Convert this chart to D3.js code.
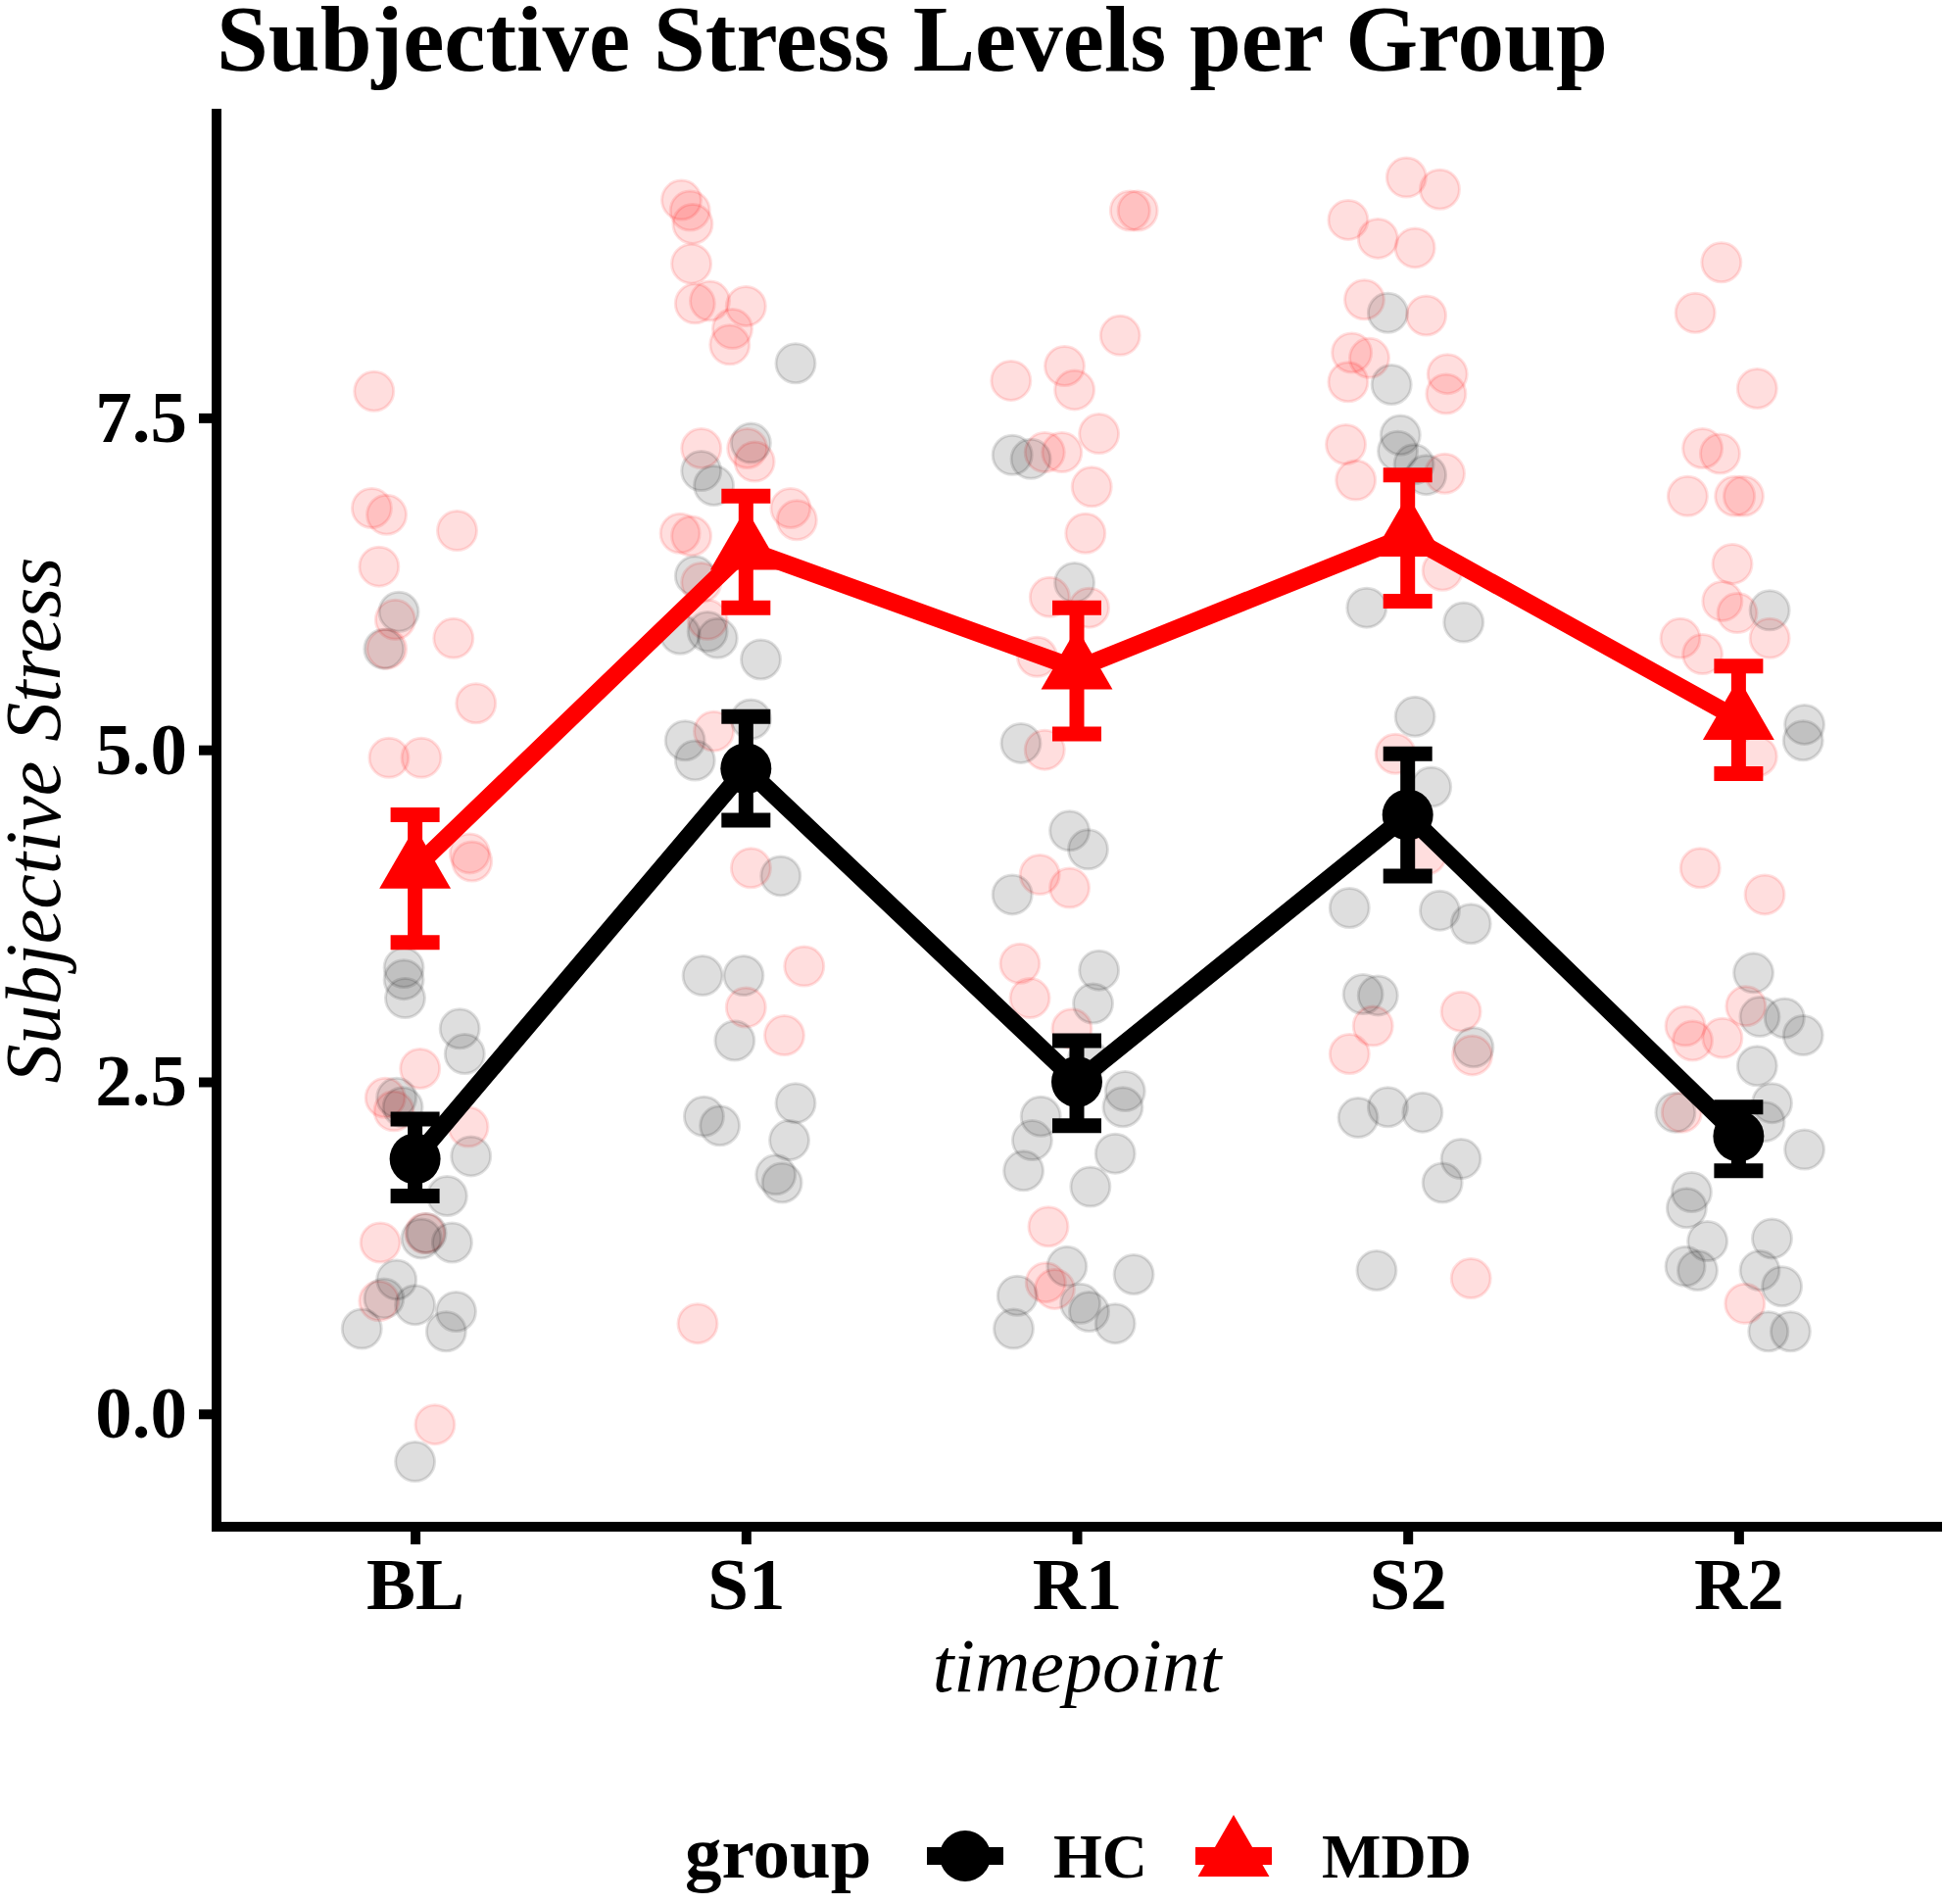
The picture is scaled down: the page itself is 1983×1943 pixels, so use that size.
<!DOCTYPE html>
<html>
<head>
<meta charset="utf-8">
<script src="https://cdn.jsdelivr.net/npm/d3@7"></script>
<style>
  body { margin: 0; background: #fff; }
  text { font-family: "Liberation Serif", "Times New Roman", serif; }
</style>
</head>
<body>
<div id="chart"></div>
<script>
// categories and tick labels
const timepoints = ["BL", "S1", "R1", "S2", "R2"];
const yTicks = [0, 2.5, 5, 7.5];

// group means and error bar bounds
const hcMean  = [1.92, 4.86, 2.50, 4.51, 2.09];
const hcLow   = [1.64, 4.47, 2.17, 4.05, 1.83];
const hcHigh  = [2.22, 5.25, 2.81, 4.97, 2.31];
const mddMean = [4.11, 6.51, 5.61, 6.61, 5.23];
const mddLow  = [3.55, 6.07, 5.12, 6.12, 4.82];
const mddHigh = [4.51, 6.91, 6.07, 7.07, 5.63];

// raw jittered observations: [timepoint, jitter offset, stress]
const hcRaw = [
  ["BL",-0.049,6.04],["BL",-0.094,5.76],["BL",-0.034,3.36],["BL",-0.034,3.27],["BL",-0.030,3.13],
  ["BL",0.135,2.90],["BL",0.150,2.71],["BL",-0.056,2.38],["BL",-0.037,2.31],["BL",0.169,1.94],
  ["BL",0.097,1.64],["BL",0.034,1.36],["BL",0.019,1.32],["BL",0.112,1.29],["BL",-0.056,1.01],
  ["BL",-0.094,0.87],["BL",-0.161,0.64],["BL",0.0,0.82],["BL",0.124,0.77],["BL",0.094,0.62],
  ["BL",0.0,-0.36],
  ["S1",0.150,7.91],["S1",0.015,7.31],["S1",-0.135,7.10],["S1",-0.097,6.99],["S1",-0.154,6.31],
  ["S1",-0.199,5.87],["S1",-0.116,5.89],["S1",-0.086,5.84],["S1",0.045,5.68],["S1",0.015,5.23],
  ["S1",-0.184,5.07],["S1",-0.154,4.92],["S1",0.105,4.05],["S1",-0.131,3.30],["S1",-0.007,3.30],
  ["S1",-0.034,2.81],["S1",-0.127,2.24],["S1",-0.079,2.17],["S1",0.150,2.34],["S1",0.131,2.06],
  ["S1",0.090,1.80],["S1",0.109,1.74],
  ["R1",-0.195,7.22],["R1",-0.139,7.19],["R1",-0.007,6.26],["R1",-0.169,5.05],["R1",-0.022,4.39],
  ["R1",0.034,4.25],["R1",-0.195,3.91],["R1",0.067,3.34],["R1",0.049,3.09],["R1",0.034,2.67],
  ["R1",0.146,2.43],["R1",0.139,2.31],["R1",-0.109,2.24],["R1",-0.135,2.06],["R1",0.116,1.96],
  ["R1",-0.161,1.83],["R1",0.041,1.71],["R1",-0.030,1.11],["R1",0.172,1.05],["R1",-0.180,0.89],
  ["R1",0.011,0.83],["R1",0.037,0.77],["R1",-0.191,0.64],["R1",0.116,0.68],
  ["S2",-0.060,8.29],["S2",-0.049,7.75],["S2",-0.022,7.37],["S2",-0.030,7.25],["S2",0.019,7.15],
  ["S2",0.056,7.07],["S2",-0.124,6.07],["S2",0.169,5.96],["S2",0.022,5.25],["S2",0.071,4.72],
  ["S2",-0.176,3.81],["S2",0.097,3.79],["S2",0.191,3.69],["S2",-0.135,3.16],["S2",-0.090,3.15],
  ["S2",0.199,2.76],["S2",-0.150,2.23],["S2",-0.060,2.31],["S2",0.045,2.27],["S2",0.161,1.92],
  ["S2",0.105,1.74],["S2",-0.094,1.08],
  ["R2",0.094,6.05],["R2",0.199,5.19],["R2",0.195,5.07],["R2",0.045,3.32],["R2",0.064,2.99],
  ["R2",0.139,2.98],["R2",0.195,2.85],["R2",0.056,2.62],["R2",0.101,2.34],["R2",0.079,2.20],
  ["R2",-0.191,2.27],["R2",0.199,1.99],["R2",-0.142,1.67],["R2",-0.157,1.55],["R2",-0.094,1.30],
  ["R2",0.101,1.32],["R2",-0.161,1.11],["R2",-0.124,1.08],["R2",0.064,1.08],["R2",0.131,0.96],
  ["R2",0.090,0.62],["R2",0.157,0.62]
];

const mddRaw = [
  ["BL",-0.124,7.70],["BL",-0.131,6.82],["BL",-0.086,6.77],["BL",0.127,6.65],["BL",-0.109,6.38],
  ["BL",-0.060,5.98],["BL",-0.086,5.76],["BL",0.116,5.84],["BL",0.184,5.35],["BL",-0.079,4.94],
  ["BL",0.019,4.94],["BL",0.165,4.22],["BL",0.172,4.16],["BL",0.015,2.60],["BL",-0.090,2.38],
  ["BL",-0.064,2.28],["BL",0.161,2.16],["BL",-0.105,1.29],["BL",0.030,1.36],["BL",-0.109,0.85],
  ["BL",0.060,-0.08],
  ["S1",-0.195,9.14],["S1",-0.169,9.06],["S1",-0.161,8.96],["S1",-0.165,8.66],["S1",-0.154,8.36],
  ["S1",-0.109,8.38],["S1",0.0,8.34],["S1",-0.041,8.17],["S1",-0.049,8.05],["S1",-0.135,7.27],
  ["S1",0.004,7.27],["S1",0.026,7.17],["S1",-0.199,6.63],["S1",-0.165,6.61],["S1",0.135,6.82],
  ["S1",0.154,6.73],["S1",-0.135,6.26],["S1",-0.116,5.98],["S1",-0.097,5.14],["S1",0.015,4.11],
  ["S1",0.176,3.37],["S1",0.0,3.06],["S1",0.116,2.85],["S1",-0.146,0.68],
  ["R1",-0.199,7.78],["R1",-0.037,7.89],["R1",-0.007,7.71],["R1",0.161,9.06],["R1",0.184,9.06],
  ["R1",0.131,8.12],["R1",0.067,7.38],["R1",-0.097,7.24],["R1",-0.045,7.24],["R1",0.045,6.98],
  ["R1",0.026,6.63],["R1",-0.082,6.15],["R1",0.037,6.07],["R1",-0.120,5.70],["R1",-0.097,5.00],
  ["R1",-0.112,4.06],["R1",-0.022,3.96],["R1",-0.172,3.39],["R1",-0.142,3.13],["R1",-0.015,2.90],
  ["R1",-0.086,1.41],["R1",-0.094,0.99],["R1",-0.067,0.94],
  ["S2",-0.004,9.31],["S2",0.097,9.22],["S2",-0.180,8.99],["S2",-0.090,8.85],["S2",0.022,8.78],
  ["S2",-0.131,8.39],["S2",0.056,8.27],["S2",-0.169,7.99],["S2",-0.116,7.95],["S2",-0.180,7.77],
  ["S2",0.120,7.83],["S2",0.116,7.68],["S2",-0.187,7.30],["S2",-0.157,7.03],["S2",0.112,7.08],
  ["S2",0.105,6.35],["S2",-0.037,4.97],["S2",0.056,4.21],["S2",-0.105,2.92],["S2",0.161,3.03],
  ["S2",-0.176,2.71],["S2",0.195,2.70],["S2",0.191,1.02],
  ["R2",-0.052,8.67],["R2",-0.131,8.29],["R2",0.056,7.72],["R2",-0.109,7.27],["R2",-0.056,7.23],
  ["R2",-0.154,6.91],["R2",-0.011,6.91],["R2",0.015,6.91],["R2",-0.019,6.40],["R2",-0.049,6.12],
  ["R2",-0.004,6.03],["R2",-0.176,5.84],["R2",-0.109,5.72],["R2",0.094,5.84],["R2",0.056,4.95],
  ["R2",-0.116,4.11],["R2",0.079,3.91],["R2",-0.161,2.92],["R2",-0.139,2.81],["R2",-0.049,2.83],
  ["R2",0.022,3.07],["R2",-0.172,2.27],["R2",0.019,0.83]
];

const W = 1983, H = 1943;
const margin = {top: 116, right: 6, bottom: 385, left: 221};
const width = W - margin.left - margin.right;
const height = H - margin.top - margin.bottom;

const svg = d3.select("#chart").append("svg")
    .attr("width", W)
    .attr("height", H);

const g = svg.append("g")
    .attr("transform", "translate(" + margin.left + "," + margin.top + ")");

// discrete x with ggplot-style 0.6 padding, as a linear index scale
const xIdx = d3.scaleLinear().domain([0.4, timepoints.length + 0.6]).range([0, width]);
const x = d => xIdx(timepoints.indexOf(d) + 1);
const y = d3.scaleLinear().domain([-0.85, 9.79]).range([height, 0]);

const circleSize = 2120, triangleSize = 2300;

// jittered raw points
function drawRaw(rows, color) {
  g.append("g").selectAll("circle")
      .data(rows)
      .enter()
      .append("circle")
      .attr("cx", d => xIdx(timepoints.indexOf(d[0]) + 1 + d[1]))
      .attr("cy", d => y(d[2]))
      .attr("r", 20)
      .attr("fill", color)
      .attr("fill-opacity", 0.13)
      .attr("stroke", color)
      .attr("stroke-opacity", 0.12)
      .attr("stroke-width", 3);
}
drawRaw(mddRaw, "#ff0000");
drawRaw(hcRaw, "#000000");

// mean lines, markers and error bars
function drawGroup(mean, low, high, color, shape, size) {
  const line = d3.line()
      .x((d, i) => x(timepoints[i]))
      .y(d => y(d));

  g.append("path")
      .datum(mean)
      .attr("d", line)
      .attr("fill", "none")
      .attr("stroke", color)
      .attr("stroke-width", 18)
      .attr("stroke-linejoin", "round");

  g.append("g").selectAll("path")
      .data(mean)
      .enter()
      .append("path")
      .attr("transform", (d, i) => "translate(" + x(timepoints[i]) + "," + y(d) + ")")
      .attr("d", d3.symbol().type(shape).size(size))
      .attr("fill", color);

  const cap = 25;
  g.append("g").selectAll("path")
      .data(mean)
      .enter()
      .append("path")
      .attr("d", (d, i) => {
        const cx = x(timepoints[i]), y0 = y(low[i]), y1 = y(high[i]);
        return "M" + (cx - cap) + "," + y1 + "H" + (cx + cap) +
               "M" + cx + "," + y1 + "V" + y0 +
               "M" + (cx - cap) + "," + y0 + "H" + (cx + cap);
      })
      .attr("fill", "none")
      .attr("stroke", color)
      .attr("stroke-width", 15);
}
drawGroup(hcMean, hcLow, hcHigh, "#000000", d3.symbolCircle, circleSize);
drawGroup(mddMean, mddLow, mddHigh, "#ff0000", d3.symbolTriangle, triangleSize);

// axes
const yAxis = d3.axisLeft(y).tickValues(yTicks).tickFormat(d3.format(".1f")).tickSize(18).tickPadding(12);
const xAxis = d3.axisBottom(xIdx).tickValues(d3.range(1, timepoints.length + 1))
    .tickFormat(d => timepoints[d - 1]).tickSize(18).tickPadding(12);

const ya = g.append("g").attr("class", "y-axis axis").call(yAxis);
const xa = g.append("g").attr("class", "x-axis axis")
    .attr("transform", "translate(0," + height + ")").call(xAxis);

[ya, xa].forEach(a => {
  a.select(".domain").remove();
  a.selectAll(".tick line").attr("stroke", "#000").attr("stroke-width", 10);
  a.selectAll(".tick text")
      .attr("fill", "#000")
      .attr("font-size", "75px")
      .attr("font-weight", "bold")
      .style("font-family", "'Liberation Serif', serif");
});
xa.selectAll(".tick text").attr("dy", "0.72em");

// axis lines (L shape)
g.append("path")
    .attr("d", "M0,0V" + height + "H" + width)
    .attr("fill", "none")
    .attr("stroke", "#000")
    .attr("stroke-width", 10)
    .attr("stroke-linecap", "square");

// title and axis titles
svg.append("text")
    .attr("x", margin.left)
    .attr("y", 72)
    .attr("font-size", "95px")
    .attr("font-weight", "bold")
    .text("Subjective Stress Levels per Group");

svg.append("text")
    .attr("transform", "translate(61," + (margin.top + height / 2) + ") rotate(-90)")
    .attr("text-anchor", "middle")
    .attr("font-size", "80px")
    .attr("font-style", "italic")
    .text("Subjective Stress");

svg.append("text")
    .attr("x", margin.left + width / 2)
    .attr("y", 1726)
    .attr("text-anchor", "middle")
    .attr("font-size", "78px")
    .attr("font-style", "italic")
    .text("timepoint");

// legend
const legY = 1894;
const legend = svg.append("g");
legend.append("text")
    .attr("x", 699).attr("y", 1916)
    .attr("font-size", "75px").attr("font-weight", "bold")
    .text("group");

const keys = [
  {label: "HC", color: "#000000", shape: d3.symbolCircle, size: circleSize, x0: 946, tx: 1075},
  {label: "MDD", color: "#ff0000", shape: d3.symbolTriangle, size: triangleSize, x0: 1220, tx: 1349}
];
keys.forEach(k => {
  legend.append("line")
      .attr("x1", k.x0).attr("x2", k.x0 + 78)
      .attr("y1", legY).attr("y2", legY)
      .attr("stroke", k.color).attr("stroke-width", 18);
  legend.append("path")
      .attr("transform", "translate(" + (k.x0 + 39) + "," + legY + ")")
      .attr("d", d3.symbol().type(k.shape).size(k.size))
      .attr("fill", k.color);
  legend.append("text")
      .attr("x", k.tx).attr("y", 1916)
      .attr("font-size", "64px").attr("font-weight", "bold")
      .text(k.label);
});
</script>
</body>
</html>
